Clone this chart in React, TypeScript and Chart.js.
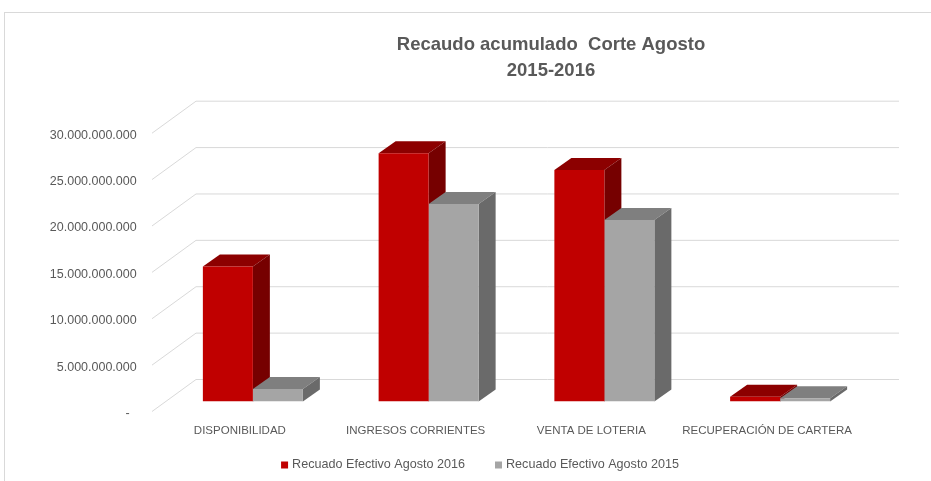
import { useEffect, useRef } from "react";
import { Chart, registerables } from "chart.js";

Chart.register(...registerables);

const CATEGORIES = [
  "DISPONIBILIDAD",
  "INGRESOS CORRIENTES",
  "VENTA DE LOTERIA",
  "RECUPERACIÓN DE CARTERA",
];
const SERIES_LABELS = ["Recuado Efectivo Agosto 2016", "Recuado Efectivo Agosto 2015"];
const VALUES_2016 = [14550000000, 26750000000, 24950000000, 500000000];
const VALUES_2015 = [1350000000, 21280000000, 19560000000, 360000000];
const TITLE_LINES = ["Recaudo acumulado  Corte Agosto", "2015-2016"];
const Y_MAX = 30000000000;
const Y_STEP = 5000000000;

const FONT = "'Liberation Sans', Arial, sans-serif";
const TEXT = "#595959";
const GRID = "#d9d9d9";

// perspective offsets relative to the bar plane
const FRONT_DX = -13;
const FRONT_DY = 10;
const BACK_DX = 31;
const BACK_DY = -22;
const BAR_DX = 17;
const BAR_DY = 12;

const FACE_COLORS = [
  { top: "#8c0000", side: "#760000" },
  { top: "#7f7f7f", side: "#6a6a6a" },
];

function fmt(v: number): string {
  if (v === 0) return "-  ";
  return String(Math.round(v)).replace(/\B(?=(\d{3})+(?!\d))/g, ".");
}

const threeD = {
  id: "threeD",
  beforeDraw(chart: any) {
    const { ctx, width, height } = chart;
    ctx.save();
    ctx.fillStyle = "#ffffff";
    ctx.fillRect(0, 0, width, height);
    ctx.strokeStyle = "#d9d9d9";
    ctx.lineWidth = 1;
    ctx.strokeRect(4.5, 12.5, width, height);
    ctx.restore();
  },
  beforeDatasetsDraw(chart: any) {
    const { ctx, chartArea } = chart;
    const y = chart.scales.y;
    ctx.save();
    ctx.strokeStyle = GRID;
    ctx.lineWidth = 1;
    for (let v = 0; v <= Y_MAX; v += Y_STEP) {
      const py = y.getPixelForValue(v);
      ctx.beginPath();
      ctx.moveTo(chartArea.left + FRONT_DX, py + FRONT_DY);
      ctx.lineTo(chartArea.left + BACK_DX, py + BACK_DY);
      ctx.lineTo(chartArea.right + BACK_DX, py + BACK_DY);
      ctx.stroke();
    }
    const metas = [chart.getDatasetMeta(0), chart.getDatasetMeta(1)];
    for (let i = 0; i < CATEGORIES.length; i++) {
      metas.forEach((meta: any, d: number) => {
        const el = meta.data[i];
        if (!el) return;
        const p = el.getProps(["x", "y", "base", "width"], true);
        const l = p.x - p.width / 2;
        const r = p.x + p.width / 2;
        const t = Math.min(p.y, p.base);
        const b = Math.max(p.y, p.base);
        ctx.fillStyle = FACE_COLORS[d].top;
        ctx.beginPath();
        ctx.moveTo(l, t);
        ctx.lineTo(r, t);
        ctx.lineTo(r + BAR_DX, t - BAR_DY);
        ctx.lineTo(l + BAR_DX, t - BAR_DY);
        ctx.closePath();
        ctx.fill();
        ctx.fillStyle = FACE_COLORS[d].side;
        ctx.beginPath();
        ctx.moveTo(r, t);
        ctx.lineTo(r + BAR_DX, t - BAR_DY);
        ctx.lineTo(r + BAR_DX, b - BAR_DY);
        ctx.lineTo(r, b);
        ctx.closePath();
        ctx.fill();
      });
    }
    ctx.restore();
  },
  afterDraw(chart: any) {
    const { ctx } = chart;
    ctx.save();
    // title
    ctx.fillStyle = TEXT;
    ctx.font = `bold 18.5px ${FONT}`;
    ctx.textAlign = "center";
    ctx.textBaseline = "middle";
    ctx.fillText(TITLE_LINES[0], 551, 45);
    ctx.fillText(TITLE_LINES[1], 551, 71);
    // legend
    ctx.font = `12.6px ${FONT}`;
    ctx.textAlign = "left";
    const box = 7;
    const gapText = 4;
    const gapItems = 30;
    const items = chart.data.datasets.map((ds: any) => ({
      text: ds.label as string,
      color: ds.backgroundColor as string,
      w: ctx.measureText(ds.label).width,
    }));
    const total =
      items.reduce((s: number, it: any) => s + box + gapText + it.w, 0) +
      gapItems * (items.length - 1);
    let x = 480 - total / 2;
    const cy = 465;
    items.forEach((it: any) => {
      ctx.fillStyle = it.color;
      ctx.fillRect(x, cy - box / 2, box, box);
      ctx.fillStyle = TEXT;
      ctx.fillText(it.text, x + box + gapText, cy);
      x += box + gapText + it.w + gapItems;
    });
    ctx.restore();
  },
};

export default function App() {
  const ref = useRef<HTMLCanvasElement | null>(null);
  useEffect(() => {
    if (!ref.current) return;
    const chart = new Chart(ref.current, {
      type: "bar",
      data: {
        labels: CATEGORIES,
        datasets: [
          {
            label: SERIES_LABELS[0],
            data: VALUES_2016,
            backgroundColor: "#c00000",
            borderWidth: 0,
            categoryPercentage: 0.569,
            barPercentage: 1,
          },
          {
            label: SERIES_LABELS[1],
            data: VALUES_2015,
            backgroundColor: "#a5a5a5",
            borderWidth: 0,
            categoryPercentage: 0.569,
            barPercentage: 1,
          },
        ],
      },
      options: {
        responsive: false,
        animation: false,
        devicePixelRatio: 1,
        layout: { padding: { top: 123.2, left: 0, right: 63, bottom: 0 } },
        plugins: {
          title: { display: false },
          tooltip: { enabled: false },
          legend: { display: false },
        },
        scales: {
          x: {
            grid: { display: false, drawTicks: false },
            border: { display: false },
            ticks: {
              color: TEXT,
              font: { family: FONT, size: 11.5 },
              padding: 22.3,
              labelOffset: FRONT_DX,
              maxRotation: 0,
              autoSkip: false,
            },
            afterFit: (s: any) => {
              s.height = 79.5;
            },
          },
          y: {
            min: 0,
            max: Y_MAX,
            grid: { display: false, drawTicks: false },
            border: { display: false },
            ticks: {
              stepSize: Y_STEP,
              color: TEXT,
              font: { family: FONT, size: 12.5 },
              padding: 28.3,
              labelOffset: 12,
              callback: (v: any) => fmt(Number(v)),
            },
            afterFit: (s: any) => {
              s.width = 165;
            },
          },
        },
      },
      plugins: [threeD],
    });
    return () => chart.destroy();
  }, []);
  return (
    <div style={{ position: "fixed", left: 0, top: 0, width: 931, height: 481 }}>
      <canvas ref={ref} width={931} height={481} />
    </div>
  );
}
